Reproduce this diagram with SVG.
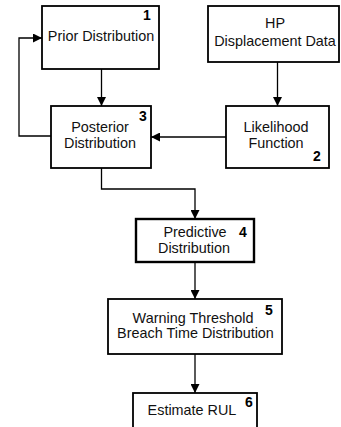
<svg xmlns="http://www.w3.org/2000/svg" width="341" height="427" viewBox="0 0 341 427">
<defs>
<marker id="ah" viewBox="0 0 10 10" refX="10" refY="5" markerWidth="9" markerHeight="9" markerUnits="userSpaceOnUse" orient="auto"><path d="M0,0 L10,5 L0,10 z" fill="#000"/></marker>
</defs>
<style>
.box{fill:#fff;stroke:#000;stroke-width:1.8}
.thick{stroke-width:2.4}
.t{font-family:"Liberation Sans",Arial,sans-serif;font-size:14.4px;fill:#111;text-anchor:middle}
.n{font-family:"Liberation Sans",Arial,sans-serif;font-size:14px;font-weight:bold;fill:#000;text-anchor:middle}
.c{fill:none;stroke:#000;stroke-width:1.3;marker-end:url(#ah)}
</style>
<rect width="341" height="427" fill="#fff"/>
<g id="connectors">
<path class="c" d="M101.5,69 V106"/>
<path class="c" d="M277.5,62 V106"/>
<path class="c" d="M51,136 H19 V38 H42"/>
<path class="c" d="M226,137 H151"/>
<path class="c" d="M101.5,168 V189 H195 V219"/>
<path class="c" d="M195,262 V299"/>
<path class="c" d="M195,354 V393"/>
</g>
<g id="n1"><rect class="box" x="42" y="6" width="117" height="63"/><text class="t" x="101" y="41">Prior Distribution</text><text class="n" x="147" y="20">1</text></g>
<g id="hp"><rect class="box" x="208" y="6" width="131" height="56"/><text class="t" x="275" y="28">HP</text><text class="t" x="275" y="46">Displacement Data</text></g>
<g id="n3"><rect class="box" x="51" y="106" width="100" height="62"/><text class="t" x="100" y="132">Posterior</text><text class="t" x="100" y="148">Distribution</text><text class="n" x="143" y="121">3</text></g>
<g id="n2"><rect class="box" x="226" y="106" width="103" height="62"/><text class="t" x="276" y="132">Likelihood</text><text class="t" x="276" y="148">Function</text><text class="n" x="317" y="161">2</text></g>
<g id="n4"><rect class="box thick" x="136" y="219" width="118" height="43"/><text class="t" x="195" y="237">Predictive</text><text class="t" x="194" y="253">Distribution</text><text class="n" x="243" y="237">4</text></g>
<g id="n5"><rect class="box" x="108" y="299" width="174" height="55"/><text class="t" x="193" y="323">Warning Threshold</text><text class="t" x="195.5" y="338">Breach Time Distribution</text><text class="n" x="269" y="315">5</text></g>
<g id="n6"><rect class="box" x="133" y="393" width="124" height="40"/><text class="t" x="192" y="415">Estimate RUL</text><text class="n" x="249" y="407">6</text></g>
</svg>
